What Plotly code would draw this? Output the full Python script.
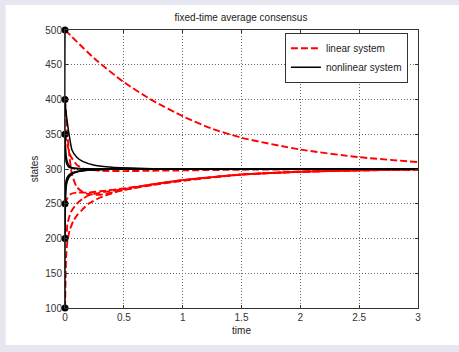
import plotly.graph_objects as go

# ---- data ----
init_times = [0, 0, 0, 0, 0, 0]
init_states = [500, 400, 350, 250, 200, 100]

# linear system (red dashed)
lin_t_500 = [0, 0.25, 0.5, 0.75, 1.0, 1.25, 1.5, 2.0, 2.5, 3.0]
lin_v_500 = [500, 459, 425, 398, 376, 358, 345, 328, 317, 310]

lin_t_400 = [0, 0.01, 0.02, 0.04, 0.06, 0.1, 0.15, 0.2, 0.3, 0.5, 0.75, 1.0, 1.5, 2.0, 2.5, 3.0]
lin_v_400 = [400, 375, 350, 315, 292, 274, 267, 264, 263, 270, 278, 284, 292, 296, 298, 299.5]

lin_t_350 = [0, 0.02, 0.05, 0.1, 0.15, 0.2, 0.3, 0.5, 0.75, 1.0, 1.5, 2.0, 2.5, 3.0]
lin_v_350 = [350, 335, 318, 306, 301, 299, 297.5, 297, 297.5, 298, 299, 299.5, 300, 300]

lin_t_250 = [0, 0.02, 0.05, 0.1, 0.15, 0.2, 0.3, 0.5, 0.75, 1.0, 1.5, 2.0, 2.5, 3.0]
lin_v_250 = [250, 258, 264, 266, 266, 266, 268, 272, 278, 284, 292, 296, 298, 299.5]

lin_t_200 = [0, 0.01, 0.02, 0.05, 0.1, 0.15, 0.2, 0.3, 0.5, 0.75, 1.0, 1.5, 2.0, 2.5, 3.0]
lin_v_200 = [200, 198, 220, 238, 250, 257, 262, 266, 271, 278, 284, 292, 296, 298, 299]

lin_t_100 = [0, 0.005, 0.01, 0.02, 0.04, 0.07, 0.1, 0.15, 0.2, 0.3, 0.4, 0.5, 0.75, 1.0, 1.5, 2.0, 2.5, 3.0]
lin_v_100 = [100, 140, 175, 195, 212, 225, 233, 242, 250, 259, 265, 270, 277, 283, 292, 296, 298, 299]

# nonlinear system (black solid)
nl_t = [0, 0.01, 0.03, 0.06, 0.1, 0.15, 0.25, 0.4, 0.75]
nl_v_500 = [500, 310, 303, 301, 300.5, 300, 300, 300, 300]
nl_v_400 = [400, 380, 355, 327, 317, 311, 305.5, 302.5, 300.5]
nl_v_350 = [350, 318, 306, 302, 301, 300.5, 300, 300, 300]
nl_v_250 = [250, 284, 291, 294.5, 296.5, 298, 299.2, 300, 300]
nl_v_200 = [200, 280, 289, 293.5, 296, 297.5, 299, 299.8, 300]
nl_v_100 = [100, 275, 287, 292.5, 295.5, 297.5, 299, 299.8, 300]
nl_tail_t = [0.75, 3.0]
nl_tail_v = [300, 300]

x_ticks = [0, 0.5, 1, 1.5, 2, 2.5, 3]
x_tick_text = ["0", "0.5", "1", "1.5", "2", "2.5", "3"]
y_ticks = [100, 150, 200, 250, 300, 350, 400, 450, 500]

RED = "#ff0000"
DASH = "7px,3px"
FONT = "Liberation Sans, Arial"
LAVENDER = "#e6e6f0"

fig = go.Figure()

lin_series = [(lin_t_500, lin_v_500), (lin_t_400, lin_v_400), (lin_t_350, lin_v_350),
              (lin_t_250, lin_v_250), (lin_t_200, lin_v_200), (lin_t_100, lin_v_100)]
for i, (t, v) in enumerate(lin_series):
    fig.add_trace(go.Scatter(x=t, y=v, mode="lines", name="linear system",
                             showlegend=(i == 0),
                             line=dict(color=RED, width=1.9, dash=DASH, shape="spline", smoothing=0.6)))

nl_series = [nl_v_500, nl_v_400, nl_v_350, nl_v_250, nl_v_200, nl_v_100]
for i, v in enumerate(nl_series):
    fig.add_trace(go.Scatter(x=nl_t, y=v, mode="lines", name="nonlinear system",
                             showlegend=(i == 0),
                             line=dict(color="black", width=1.5, shape="spline", smoothing=0.6)))
fig.add_trace(go.Scatter(x=nl_tail_t, y=nl_tail_v, mode="lines", showlegend=False,
                         line=dict(color="black", width=2)))

fig.add_trace(go.Scatter(x=init_times, y=init_states, mode="markers", showlegend=False,
                         cliponaxis=False,
                         marker=dict(color="black", size=7)))

# white panel
fig.add_shape(type="rect", xref="paper", yref="paper",
              x0=-0.168, x1=1.2, y0=-0.133, y1=1.09,
              fillcolor="white", line=dict(width=0), layer="below")

axis_common = dict(showgrid=True, gridcolor="#666", griddash="1px,2px", gridwidth=1,
                   showline=True, linecolor="#333", linewidth=1, mirror="ticks",
                   ticks="inside", ticklen=3, tickcolor="#333", zeroline=False,
                   automargin=False,
                   tickfont=dict(family=FONT, size=10, color="#333"))

fig.update_xaxes(range=[0, 3], tickvals=x_ticks, ticktext=x_tick_text,
                 title=dict(text="time", font=dict(family=FONT, size=10, color="#222"), standoff=4),
                 **axis_common)
fig.update_yaxes(range=[100, 500], tickvals=y_ticks,
                 title=dict(text="states", font=dict(family=FONT, size=10, color="#222"), standoff=4),
                 **axis_common)

fig.update_layout(
    width=459, height=352,
    margin=dict(l=65, r=41, t=30, b=44, autoexpand=False),
    paper_bgcolor=LAVENDER,
    plot_bgcolor="white",
    title=dict(text="fixed-time average consensus", x=0.525, xanchor="center", y=0.95, yanchor="middle",
               font=dict(family=FONT, size=10, color="#222")),
    legend=dict(x=0.623, y=0.99, xanchor="left", yanchor="top",
                bgcolor="white", bordercolor="#333", borderwidth=1,
                font=dict(family=FONT, size=10, color="#222"),
                tracegroupgap=0, itemwidth=30),
    showlegend=True,
)

fig.write_html("out.html",
               config={"displayModeBar": False},
               post_script="document.body.style.margin='0px';"
                           "document.body.style.overflow='hidden';"
                           "document.body.style.background='" + LAVENDER + "';")
